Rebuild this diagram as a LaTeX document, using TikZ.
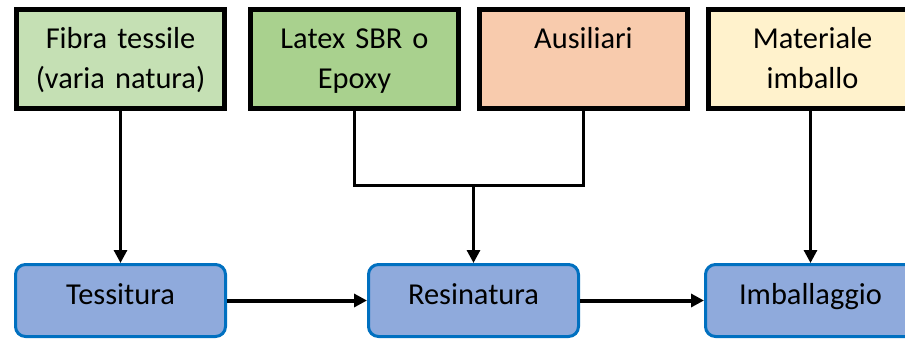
\documentclass[tikz,border=0pt]{standalone}
\usepackage{fontspec}
\setmainfont{Carlito}
\usetikzlibrary{positioning,arrows.meta}
\definecolor{fibraverde}{HTML}{C5E0B4}
\definecolor{latexverde}{HTML}{A9D18E}
\definecolor{ausilarancio}{HTML}{F8CBAD}
\definecolor{imballgiallo}{HTML}{FFF2CC}
\definecolor{fasefill}{HTML}{8FAADC}
\definecolor{fasebordo}{HTML}{0070C0}
\tikzset{
>={Triangle[length=6.5pt,width=6.5pt]},
  materia/.style={
    rectangle,
    draw=black, line width=2.5pt,
    text width=104pt,
    inner xsep=0pt, inner ysep=0pt,
    text height=19.25pt,
    text depth=30.25pt,
    align=center,
    font=\fontsize{15.2pt}{20pt}\selectfont},
  fase/.style={
    rectangle,
    rounded corners=5pt,
    draw=fasebordo, line width=1.5pt,
    fill=fasefill,
    minimum width=105pt,
    minimum height=36pt,
    text height=7pt, text depth=3pt,
    font=\fontsize{15.2pt}{20pt}\selectfont},
  linea/.style={draw, line width=1.5pt},
  freccia/.style={draw, line width=1.5pt, ->},
  flusso/.style={draw, line width=2pt, ->},
}
\begin{document}
\begin{tikzpicture}
[x=0.5pt, y=-0.5pt, node distance=8pt]
    \useasboundingbox (0,0) rectangle (905,338);
    \clip (0,0) rectangle (905,338);

    % materie in ingresso
    \node [materia, fill=fibraverde, anchor=north] (fibra) at (120.5,7)
                                       {Fibra tessile\\(varia natura)};
    \node [materia, fill=latexverde, right=10.5pt of fibra] (latex) {Latex SBR o\\Epoxy};
    \node [materia, fill=ausilarancio, right=of latex] (ausil) {Ausiliari};
    \node [materia, fill=imballgiallo, right=of ausil] (mater) {Materiale\\imballo};

    % fasi
    \node [fase, below=76pt of fibra] (tessitura) {Tessitura};
    \node [fase, right=70pt of tessitura] (resinatura) {Resinatura};
    \node [fase, right=62pt of resinatura] (imballaggio) {Imballaggio};

    \draw[freccia] (fibra) -- (tessitura);
    \draw[linea] (latex.south) -- ++(0,-37pt) coordinate (snodo) -| (ausil.south);
    \draw[freccia] (snodo -| resinatura.north) -- (resinatura.north);
    \draw[freccia] (mater.south -| imballaggio.north) -- (imballaggio.north);
    \draw[flusso] (tessitura) -- (resinatura);
    \draw[flusso] (resinatura) -- (imballaggio);

\end{tikzpicture}
\end{document}
